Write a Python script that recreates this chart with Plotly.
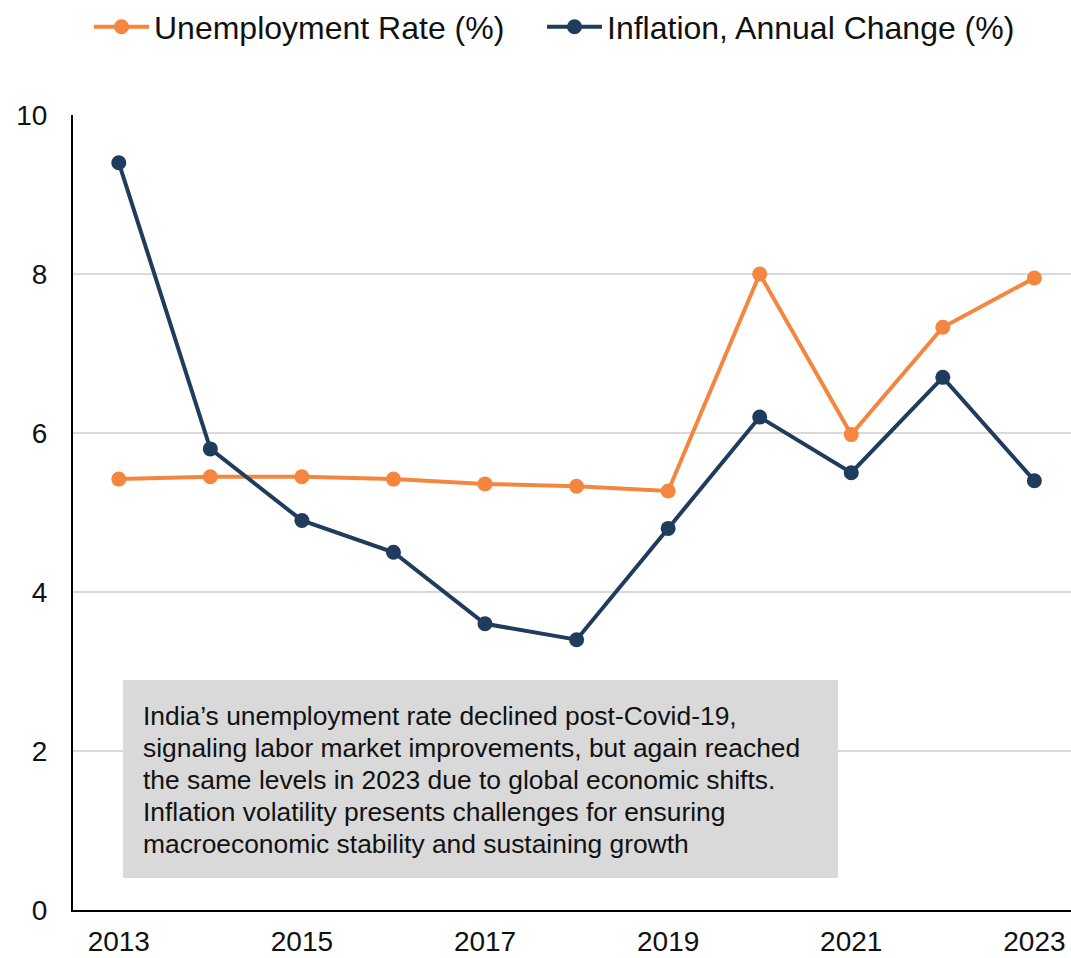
import plotly.graph_objects as go

years = list(range(2013, 2024))
unemployment = [5.42, 5.45, 5.45, 5.42, 5.36, 5.33, 5.27, 8.0, 5.98, 7.33, 7.95]
inflation = [9.4, 5.8, 4.9, 4.5, 3.6, 3.4, 4.8, 6.2, 5.5, 6.7, 5.4]
x_ticks = [2013, 2015, 2017, 2019, 2021, 2023]
y_ticks = [0, 2, 4, 6, 8, 10]
note_lines = [
    "India’s unemployment rate declined post-Covid-19,",
    "signaling labor market improvements, but again reached",
    "the same levels in 2023 due to global economic shifts.",
    "Inflation volatility presents challenges for ensuring",
    "macroeconomic stability and sustaining growth",
]

ORANGE = "#F5863F"
NAVY = "#1F3C5C"
FONT = "Liberation Sans, Arial, sans-serif"

W, H = 1071, 958
L, R, T, B = 73, 0, 115, 48
pw, ph = W - L - R, H - T - B

def px(x_page):
    return (x_page - L) / pw

def py(y_page):
    return (T + ph - y_page) / ph

fig = go.Figure()
fig.add_trace(go.Scatter(x=years, y=unemployment, mode="lines+markers",
                         name="Unemployment Rate (%)", legend="legend",
                         line=dict(color=ORANGE, width=4),
                         marker=dict(color=ORANGE, size=15)))
fig.add_trace(go.Scatter(x=years, y=inflation, mode="lines+markers",
                         name="Inflation, Annual Change (%)", legend="legend2",
                         line=dict(color=NAVY, width=4),
                         marker=dict(color=NAVY, size=15)))

fig.add_shape(type="rect", xref="paper", yref="paper",
              x0=px(123), x1=px(838), y0=py(878), y1=py(680),
              fillcolor="#D9D9D9", line=dict(width=0), layer="below")
NOTE_FS = 26.4
for i, line in enumerate(note_lines):
    baseline = 725 + 31.9 * i
    fig.add_annotation(xref="paper", yref="paper", x=px(141), y=py(baseline - 0.33 * NOTE_FS),
                       xanchor="left", yanchor="middle", align="left",
                       text=line, showarrow=False,
                       font=dict(family=FONT, size=NOTE_FS, color="#111111"))

leg_common = dict(orientation="h", yanchor="middle", y=py(27),
                  font=dict(size=32, family=FONT), itemwidth=55,
                  bgcolor="rgba(0,0,0,0)")

fig.update_layout(
    width=W, height=H,
    margin=dict(l=L, r=R, t=T, b=B, autoexpand=False),
    paper_bgcolor="white", plot_bgcolor="white",
    font=dict(family=FONT, color="#111111"),
    showlegend=True,
    legend=dict(x=px(89), xanchor="left", **leg_common),
    legend2=dict(x=px(542), xanchor="left", **leg_common),
    xaxis=dict(range=[2012.5, 2023.40], tickvals=x_ticks, ticktext=[str(v) for v in x_ticks],
               showgrid=False, showline=True, linecolor="#000000", linewidth=2,
               zeroline=False, ticks="", tickfont=dict(size=28, family=FONT),
               ticklabelstandoff=5, automargin=False, ticklabeloverflow="allow"),
    yaxis=dict(range=[0, 10], tickvals=y_ticks, showgrid=True, gridcolor="#D9D9D9",
               gridwidth=2, showline=True, linecolor="#000000", linewidth=2,
               zeroline=False, ticks="", tickfont=dict(size=28, family=FONT),
               ticklabelstandoff=18, automargin=False),
)

fig.write_html("out.html", config={"displayModeBar": False},
               post_script="document.body.style.margin='0';")
